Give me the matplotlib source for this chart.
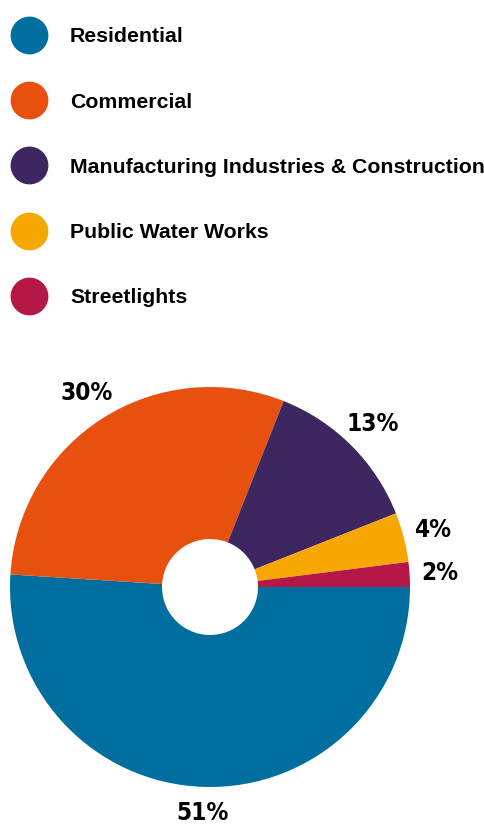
import matplotlib.pyplot as plt
from matplotlib import font_manager

# Electricity use by sector (percent)
sectors = ["Residential", "Commercial", "Manufacturing Industries & Construction",
           "Public Water Works", "Streetlights"]
shares = [51, 30, 13, 4, 2]
colors = ["#006e9f", "#e8500f", "#3e2660", "#f6a800", "#b51847"]

W, H = 485, 826

# narrow face for the percentages, if one is installed
narrow = None
for f in font_manager.fontManager.ttflist:
    if f.weight in ("bold", 700) and ("Narrow" in f.name or "Condensed" in f.name
                                      or f.stretch in ("condensed", "semi-condensed")):
        narrow = f.fname
        break

fig = plt.figure(figsize=(W / 100, H / 100), dpi=100)
ax = fig.add_axes([0, 0, 1, 1])

# ring chart, drawn clockwise from 3 o'clock
wedges, texts, autotexts = ax.pie(
    shares,
    colors=colors,
    startangle=0,
    counterclock=False,
    center=(210, H - 587),
    radius=200,
    wedgeprops=dict(width=152, linewidth=0),
    autopct="%.0f%%",
    pctdistance=1.15,
)
for t in autotexts:
    if narrow:
        t.set_fontproperties(font_manager.FontProperties(fname=narrow, size=17.5))
    else:
        t.set_fontproperties(font_manager.FontProperties(
            family="DejaVu Sans", weight="bold", stretch="condensed", size=16.5))
    t.set_color("black")

# keep the bottom label inside the canvas
x0, y0 = autotexts[0].get_position()
autotexts[0].set_position((x0, y0 + 4))

# legend: dot + label per sector
for i, (name, c) in enumerate(zip(sectors, colors)):
    y = H - (35 + 65.2 * i)
    ax.scatter([29], [y], s=740, color=c, linewidths=0)
    ax.text(70, y, name, fontsize=15.3, fontweight="bold",
            family=["Liberation Sans", "DejaVu Sans"],
            va="center_baseline", ha="left", color="black")

ax.set_xlim(0, W)
ax.set_ylim(0, H)
ax.set_aspect("equal")
ax.axis("off")

fig.savefig("out.png", dpi=100)
